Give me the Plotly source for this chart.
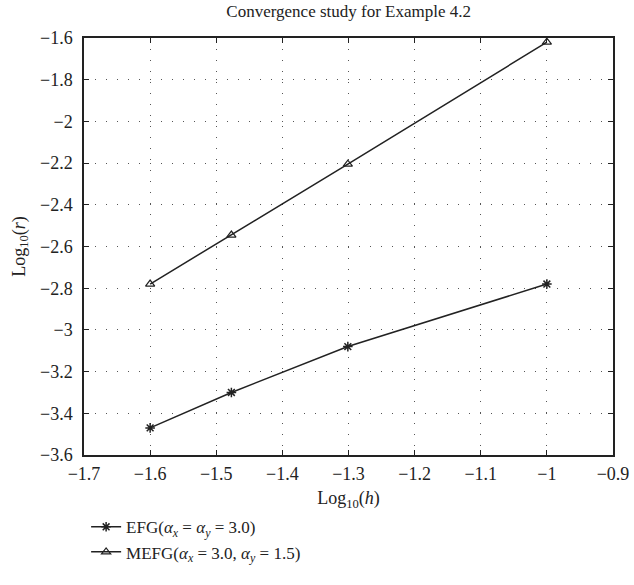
import plotly.graph_objects as go

log_h = [-1.6, -1.4771, -1.3010, -1.0]
efg = [-3.47, -3.30, -3.08, -2.78]
mefg = [-2.78, -2.545, -2.205, -1.62]

x_ticks = [-1.7, -1.6, -1.5, -1.4, -1.3, -1.2, -1.1, -1.0, -0.9]
x_labels = ["\u22121.7", "\u22121.6", "\u22121.5", "\u22121.4", "\u22121.3", "\u22121.2", "\u22121.1", "\u22121", "\u22120.9"]
y_ticks = [-3.6, -3.4, -3.2, -3.0, -2.8, -2.6, -2.4, -2.2, -2.0, -1.8, -1.6]
y_labels = ["\u22123.6", "\u22123.4", "\u22123.2", "\u22123", "\u22122.8", "\u22122.6", "\u22122.4", "\u22122.2", "\u22122", "\u22121.8", "\u22121.6"]

FONT = "Liberation Serif"
fig = go.Figure()
fig.add_trace(go.Scatter(
    x=log_h, y=efg, mode="lines+markers",
    name="EFG(<i>\u03b1</i><sub><i>x</i></sub> = <i>\u03b1</i><sub><i>y</i></sub> = 3.0)",
    line=dict(color="#222", width=1.5),
    marker=dict(symbol="asterisk-open", size=8, color="#222", line=dict(width=1.5, color="#222")),
))
fig.add_trace(go.Scatter(
    x=log_h, y=mefg, mode="lines+markers",
    name="MEFG(<i>\u03b1</i><sub><i>x</i></sub> = 3.0, <i>\u03b1</i><sub><i>y</i></sub> = 1.5)",
    line=dict(color="#222", width=1.5),
    marker=dict(symbol="triangle-up-open", size=8, color="#222", line=dict(width=1.2, color="#222")),
))

axis_common = dict(
    showline=True, linecolor="#222", linewidth=1.5, mirror="allticks",
    ticks="inside", ticklen=5, tickcolor="#222",
    showgrid=True, gridcolor="#555", gridwidth=1, griddash="1px,10px",
    zeroline=False, tickfont=dict(family=FONT, size=18, color="#222"),
)
fig.update_xaxes(range=[-1.7, -0.9], tickvals=x_ticks, ticktext=x_labels,
                 ticklabelstandoff=2,
                 title=dict(text="Log<sub>10</sub>(<i>h</i>)", font=dict(family=FONT, size=18, color="#222"), standoff=8),
                 **axis_common)
fig.update_yaxes(range=[-3.6, -1.6], tickvals=y_ticks, ticktext=y_labels,
                 ticklabelstandoff=6,
                 title=dict(text="Log<sub>10</sub>(<i>r</i>)", font=dict(family=FONT, size=18, color="#222"), standoff=10),
                 **axis_common)

fig.update_layout(
    width=634, height=585,
    margin=dict(l=84, r=21, t=38, b=130, autoexpand=False),
    paper_bgcolor="white", plot_bgcolor="white",
    title=dict(text="Convergence study for Example 4.2", x=0.55, xanchor="center", y=0.981, yanchor="middle",
               font=dict(family=FONT, size=17, color="#222")),
    legend=dict(x=0.004, y=-0.13, xanchor="left", yanchor="top",
                font=dict(family=FONT, size=17, color="#222"),
                bgcolor="rgba(0,0,0,0)", tracegroupgap=0, itemwidth=30),
    showlegend=True,
)

fig.write_html("out.html")
